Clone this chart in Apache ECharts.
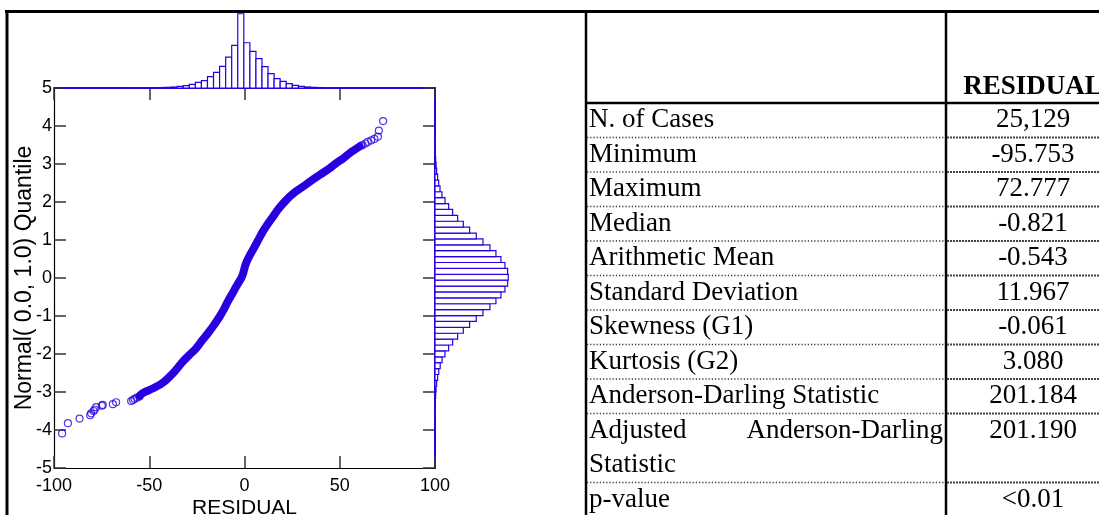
<!DOCTYPE html>
<html>
<head>
<meta charset="utf-8">
<script src="https://cdn.jsdelivr.net/npm/echarts@6/dist/echarts.min.js"></script>
<style>
html,body{margin:0;padding:0;background:#fff;}
#c{width:1099px;height:515px;}
</style>
</head>
<body>
<div id="c"></div>
<script>
// ---------- DATA ----------
// Q-Q plot: dense central part (residual, normal quantile)
const denseX = [-55, -53.4, -50, -46.4, -43, -39.4, -36, -32.4, -29, -25.4, -22.5, -19.3, -16.2, -13.1, -11, -8.8, -6.5, -4.4, -2.6, -1.2, -0.3, 0.6, 2.2, 4.4, 7, 9.6, 12.2, 14.9, 18.2, 21.9, 26, 30.6, 35, 39.4, 44, 48.1, 51.6, 55.1, 58, 60.4];
const denseY = [-3.10, -3.03, -2.95, -2.86, -2.76, -2.60, -2.42, -2.20, -2.03, -1.85, -1.66, -1.46, -1.25, -1.02, -0.84, -0.62, -0.42, -0.23, -0.08, 0.05, 0.20, 0.36, 0.54, 0.74, 0.98, 1.22, 1.42, 1.61, 1.84, 2.05, 2.24, 2.40, 2.56, 2.71, 2.86, 3.02, 3.14, 3.28, 3.38, 3.46];
// sparse tails (individual hollow circles)
const tailX = [-95.75, -92.7, -86.6, -81.0, -80.5, -79.2, -78.7, -77.9, -74.9, -74.4, -69.1, -67.4, -59.5, -58.5, -57.7, -56.5, -55.1, 61.2, 62.0, 63.5, 64.7, 66.5, 68.2, 70.0, 70.5, 72.78];
const tailY = [-4.09, -3.82, -3.70, -3.61, -3.56, -3.50, -3.46, -3.40, -3.36, -3.34, -3.32, -3.27, -3.24, -3.21, -3.18, -3.15, -3.12, 3.48, 3.50, 3.54, 3.58, 3.62, 3.66, 3.72, 3.88, 4.13];

// Top histogram of RESIDUAL: 53 bins from the minimum, width 3.18
const resBinStart = -95.753;
const resBinWidth = 3.18;
const resCounts = [1, 0, 1, 1, 0, 2, 1, 2, 3, 2, 4, 5, 6, 8, 10, 14, 19,
  27, 40, 68, 95, 150, 230, 300, 460, 635, 880, 1255, 1730, 3010, 1835, 1485, 1190, 865, 580, 380, 270, 175, 108, 68, 40, 27,
  18, 12, 8, 6, 4, 3, 2, 1, 1, 1, 1];

// Right histogram of normal quantiles: 53 bins from -4.09, width 0.1551
const qBinStart = -4.09;
const qBinWidth = 0.1551;
const qCounts = [1, 1, 2, 3, 5, 9, 14, 22, 35, 56, 80, 110, 150, 212, 289, 374, 480, 600, 734, 875, 1017, 1165, 1292, 1398, 1483, 1539,
  1553,
  1539, 1483, 1398, 1292, 1165, 1017, 875, 734, 600, 480, 374, 289, 212, 148, 106, 78, 56, 35, 22, 14, 9, 5, 3, 2, 1, 1];

// Axis ticks
const xTicks = [-100, -50, 0, 50, 100];
const yTicks = [-5, -4, -3, -2, -1, 0, 1, 2, 3, 4, 5];
const xName = 'RESIDUAL';
const yName = 'Normal( 0.0, 1.0) Quantile';

// Statistics table
const tableHeader = 'RESIDUAL';
const statLabels = [['N. of Cases'], ['Minimum'], ['Maximum'], ['Median'], ['Arithmetic Mean'], ['Standard Deviation'], ['Skewness (G1)'], ['Kurtosis (G2)'], ['Anderson-Darling Statistic'], ['Adjusted Anderson-Darling', 'Statistic'], ['p-value']];
const statValues = ['25,129', '-95.753', '72.777', '-0.821', '-0.543', '11.967', '-0.061', '3.080', '201.184', '201.190', '<0.01'];

// ---------- CHART ----------
const BLUE = '#2b00e0';
const chart = echarts.init(document.getElementById('c'));

const denseData = denseX.map((x, i) => [x, denseY[i]]);
const tailData = tailX.map((x, i) => [x, tailY[i]]);
const resHist = resCounts.map((c, i) => [resBinStart + i * resBinWidth, resBinStart + (i + 1) * resBinWidth, c]);
const qHist = qCounts.map((c, i) => [qBinStart + i * qBinWidth, qBinStart + (i + 1) * qBinWidth, c]);

// table graphics
const G = [];
const TL = 586, TS = 946, TV = 1033, HB = 103, RH = 34.5;
const serif = '"Liberation Serif", "Times New Roman", serif';
G.push({type: 'line', shape: {x1: 5, y1: 11.5, x2: 1099, y2: 11.5}, style: {stroke: '#000', lineWidth: 3}});
G.push({type: 'line', shape: {x1: 7, y1: 10, x2: 7, y2: 515}, style: {stroke: '#000', lineWidth: 3}});
G.push({type: 'line', shape: {x1: TL, y1: 10, x2: TL, y2: 515}, style: {stroke: '#000', lineWidth: 2.5}});
G.push({type: 'line', shape: {x1: TS, y1: 10, x2: TS, y2: 515}, style: {stroke: '#000', lineWidth: 2.5}});
G.push({type: 'line', shape: {x1: TL, y1: HB, x2: 1099, y2: HB}, style: {stroke: '#000', lineWidth: 2.5}});
G.push({type: 'text', x: TV, y: HB - 16, style: {text: tableHeader, fontFamily: serif, fontSize: 27, fontWeight: 'bold', fill: '#000', align: 'center', verticalAlign: 'middle'}});
let line = 0;
statLabels.forEach((lines, r) => {
  const rowTop = HB + line * RH;
  lines.forEach((t, li) => {
    const cy = HB + (line + li) * RH + RH / 2;
    if (lines.length > 1 && li === 0) {
      const sp = t.indexOf(' ');
      G.push({type: 'text', x: TL + 3, y: cy, style: {text: t.slice(0, sp), fontFamily: serif, fontSize: 27, fill: '#000', align: 'left', verticalAlign: 'middle'}});
      G.push({type: 'text', x: TS - 3, y: cy, style: {text: t.slice(sp + 1), fontFamily: serif, fontSize: 27, fill: '#000', align: 'right', verticalAlign: 'middle'}});
    } else {
      G.push({type: 'text', x: TL + 3, y: cy, style: {text: t, fontFamily: serif, fontSize: 27, fill: '#000', align: 'left', verticalAlign: 'middle'}});
    }
  });
  G.push({type: 'text', x: TV, y: rowTop + RH / 2, style: {text: statValues[r], fontFamily: serif, fontSize: 27, fill: '#000', align: 'center', verticalAlign: 'middle'}});
  line += lines.length;
  if (r < statLabels.length - 1) {
    const yb = HB + line * RH;
    G.push({type: 'line', shape: {x1: TL + 1, y1: yb, x2: TS - 1, y2: yb}, style: {stroke: '#333', lineWidth: 1.5, lineDash: [1.2, 2]}});
    G.push({type: 'line', shape: {x1: TS + 1, y1: yb, x2: 1099, y2: yb}, style: {stroke: '#444', lineWidth: 1.8, lineDash: [2, 1]}});
  }
});

const sans = '"Liberation Sans", Arial, Helvetica, sans-serif';
const tickStyle = {show: true, inside: true, length: 12, lineStyle: {color: '#333', width: 1.5}};

chart.setOption({
  animation: false,
  backgroundColor: '#fff',
  grid: [
    {left: 54, top: 88, width: 381, height: 380, containLabel: false, outerBoundsMode: 'none'},
    {left: 54, top: 13, width: 381, height: 75, containLabel: false, outerBoundsMode: 'none'},
    {left: 435, top: 88, width: 75, height: 380, containLabel: false, outerBoundsMode: 'none'}
  ],
  xAxis: [
    {gridIndex: 0, type: 'value', position: 'bottom', min: xTicks[0], max: xTicks[xTicks.length - 1], interval: 50,
      axisLine: {show: true, onZero: false, lineStyle: {color: '#000', width: 1.2}}, axisTick: tickStyle,
      axisLabel: {show: true, margin: 9, fontFamily: sans, fontSize: 18, color: '#000'},
      splitLine: {show: false},
      name: xName, nameLocation: 'middle', nameGap: 30, nameMoveOverlap: false,
      nameTextStyle: {fontFamily: sans, fontSize: 21, color: '#000'}},
    {gridIndex: 0, type: 'value', position: 'top', min: -100, max: 100, interval: 50,
      axisLine: {show: true, onZero: false, lineStyle: {color: BLUE, width: 2}}, axisTick: tickStyle,
      axisLabel: {show: false}, splitLine: {show: false}},
    {gridIndex: 1, type: 'value', min: -100, max: 100, show: false},
    {gridIndex: 2, type: 'value', min: 0, max: 1590, show: false}
  ],
  yAxis: [
    {gridIndex: 0, type: 'value', position: 'left', min: yTicks[0], max: yTicks[yTicks.length - 1], interval: 1,
      axisLine: {show: true, onZero: false, lineStyle: {color: '#000', width: 1.2}}, axisTick: tickStyle,
      axisLabel: {show: true, margin: 2, fontFamily: sans, fontSize: 18, color: '#000'},
      splitLine: {show: false},
      name: yName, nameLocation: 'middle', nameGap: 18, nameMoveOverlap: false,
      nameTextStyle: {fontFamily: sans, fontSize: 23, color: '#000'}},
    {gridIndex: 0, type: 'value', position: 'right', min: -5, max: 5, interval: 1,
      axisLine: {show: true, onZero: false, lineStyle: {color: BLUE, width: 2}}, axisTick: tickStyle,
      axisLabel: {show: false}, splitLine: {show: false}},
    {gridIndex: 1, type: 'value', min: 0, max: 3040, show: false},
    {gridIndex: 2, type: 'value', min: -5, max: 5, show: false}
  ],
  series: [
    {type: 'line', xAxisIndex: 0, yAxisIndex: 0, data: denseData, smooth: true, showSymbol: false,
      lineStyle: {color: BLUE, width: 8, cap: 'round', join: 'round'}, z: 3},
    {type: 'scatter', xAxisIndex: 0, yAxisIndex: 0, data: tailData, symbol: 'circle', symbolSize: 7,
      itemStyle: {color: 'rgba(255,255,255,0)', borderColor: BLUE, borderWidth: 1.2}, z: 4},
    {type: 'custom', xAxisIndex: 2, yAxisIndex: 2, data: resHist, encode: {x: [0, 1], y: 2},
      renderItem: function (params, api) {
        const p0 = api.coord([api.value(0), api.value(2)]);
        const p1 = api.coord([api.value(1), 0]);
        return {type: 'rect', shape: {x: p0[0], y: p0[1], width: p1[0] - p0[0], height: p1[1] - p0[1]},
          style: {fill: '#fff', stroke: BLUE, lineWidth: 1.2}};
      }, z: 5},
    {type: 'custom', xAxisIndex: 3, yAxisIndex: 3, data: qHist, encode: {y: [0, 1], x: 2},
      renderItem: function (params, api) {
        const p0 = api.coord([0, api.value(1)]);
        const p1 = api.coord([api.value(2), api.value(0)]);
        return {type: 'rect', shape: {x: p0[0], y: p0[1], width: p1[0] - p0[0], height: p1[1] - p0[1]},
          style: {fill: '#fff', stroke: BLUE, lineWidth: 1.2}};
      }, z: 5}
  ],
  graphic: G
});
</script>
</body>
</html>
